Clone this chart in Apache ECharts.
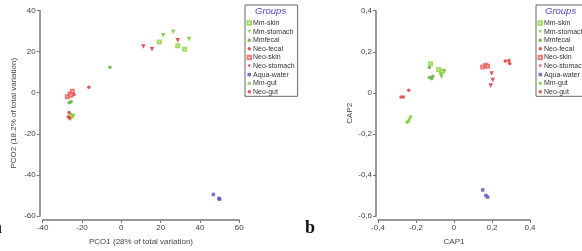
<!DOCTYPE html>
<html><head><meta charset="utf-8">
<script src="https://cdn.jsdelivr.net/npm/echarts@6/dist/echarts.min.js"></script>
<style>html,body{margin:0;padding:0;background:#fff}#c{width:582px;height:251px}</style>
</head><body><div id="c"></div>
<script>
const groups = ['Mm-skin','Mm-stomach','Mmfecal','Neo-fecal','Neo-skin','Neo-stomach','Aqua-water','Mm-gut','Neo-gut'];
const groupColors = ['#8fd13c','#78c22a','#5aa82a','#e0282a','#e85a5a','#d8283a','#5a4cc4','#7cc834','#e03030'];
const groupSymbols = ['emptyRect','path://M0,0 L10,0 L5,9 Z','circle','circle','emptyRect','path://M0,0 L10,0 L5,9 Z','rect','circle','circle'];
const groupSizes = [3,4.5,3.5,3.5,3,4.5,3.5,3.5,3.5];

// PCO (panel a): [PCO1, PCO2]
const pcoMmSkin = [[19.3,24.7],[28.7,22.8],[32.2,21.1]];
const pcoMmStomach = [[21.3,28.0],[26.4,29.6],[34.4,26.1]];
const pcoMmFecal = [[-26.5,-4.9],[-25.5,-4.4],[-5.8,12.4]];
const pcoNeoFecal = [[-24.1,-0.9],[-16.5,2.7]];
const pcoNeoSkin = [[-27.5,-2.0],[-26.1,-0.6],[-24.9,0.7],[-25.6,-1.3]];
const pcoNeoStomach = [[11.2,22.5],[15.6,21.1],[28.7,25.5]];
const pcoAquaWater = [[46.8,-49.5],[50.0,-51.8],[49.6,-51.4]];
const pcoMmGut = [[-25.8,-10.5],[-24.9,-11.7],[-24.4,-10.9],[-26.1,-12.8]];
const pcoNeoGut = [[-26.6,-9.6],[-27.0,-11.7],[-26.3,-12.3]];

// CAP (panel b): [CAP1, CAP2]
const capMmSkin = [[-0.123,0.142],[-0.081,0.113],[-0.063,0.105]];
const capMmStomach = [[-0.051,0.105],[-0.070,0.089],[-0.065,0.078]];
const capMmFecal = [[-0.130,0.123],[-0.130,0.075],[-0.117,0.069],[-0.112,0.081]];
const capNeoFecal = [[0.270,0.155],[0.289,0.157],[0.293,0.143]];
const capNeoSkin = [[0.151,0.126],[0.167,0.134],[0.177,0.129]];
const capNeoStomach = [[0.198,0.094],[0.204,0.062],[0.193,0.036]];
const capAquaWater = [[0.151,-0.473],[0.168,-0.500],[0.177,-0.508]];
const capMmGut = [[-0.228,-0.116],[-0.240,-0.139],[-0.247,-0.143],[-0.235,-0.128]];
const capNeoGut = [[-0.279,-0.020],[-0.267,-0.020],[-0.238,0.013]];

const pcoData = [pcoMmSkin,pcoMmStomach,pcoMmFecal,pcoNeoFecal,pcoNeoSkin,pcoNeoStomach,pcoAquaWater,pcoMmGut,pcoNeoGut];
const capData = [capMmSkin,capMmStomach,capMmFecal,capNeoFecal,capNeoSkin,capNeoStomach,capAquaWater,capMmGut,capNeoGut];

const FONT = 'Liberation Sans, Arial, sans-serif';
const axisColor = '#777';
const labelStyle = {fontSize: 8, color: '#444', fontFamily: FONT};
const nameStyle = {fontSize: 8, color: '#444', fontFamily: FONT};
const commaFmt = v => { const r = Math.round(v*10)/10; return r === 0 ? '0' : r.toFixed(1).replace('.', ','); };

function axisBase(extra) {
  return Object.assign({
    type: 'value',
    splitLine: {show: false},
    axisLine: {show: true, onZero: false, lineStyle: {color: axisColor, width: 1.5}},
    axisTick: {show: true, inside: false, length: 3, lineStyle: {color: axisColor, width: 1}},
    axisLabel: Object.assign({margin: 4}, labelStyle),
    nameTextStyle: nameStyle,
    nameLocation: 'middle'
  }, extra);
}

function isEmpty(i) { return groupSymbols[i].indexOf('empty') === 0; }

const series = [];
groups.forEach((g, i) => {
  const style = {color: groupColors[i], borderColor: groupColors[i], borderWidth: isEmpty(i) ? 1 : 0};
  series.push({name: g, type: 'scatter', xAxisIndex: 0, yAxisIndex: 0, data: pcoData[i],
    symbol: groupSymbols[i], symbolSize: groupSizes[i], itemStyle: style});
  series.push({name: g, type: 'scatter', xAxisIndex: 1, yAxisIndex: 1, data: capData[i],
    symbol: groupSymbols[i], symbolSize: groupSizes[i], itemStyle: style});
});

function legendFor(left) {
  return {
    data: groups.map((g, i) => ({name: g, icon: groupSymbols[i],
      itemStyle: {color: groupColors[i], borderColor: groupColors[i], borderWidth: isEmpty(i) ? 0.7 : 0}})),
    orient: 'vertical', left: left, top: 5,
    borderColor: '#666', borderWidth: 1,
    padding: [14.5, 3, 1, 1.5],
    itemWidth: 3.5, itemHeight: 3.5, itemGap: 1.6,
    selectedMode: false,
    textStyle: {fontSize: 7, color: '#333', padding: [0,0,0,-3], lineHeight: 7, fontFamily: FONT}
  };
}

const chart = echarts.init(document.getElementById('c'), null, {renderer: 'canvas'});
chart.setOption({
  animation: false,
  backgroundColor: '#fff',
  grid: [
    {left: 42.7, top: 10.5, width: 196.6, height: 210.5},
    {left: 378, top: 10.7, width: 152, height: 210.3}
  ],
  xAxis: [
    axisBase({gridIndex: 0, min: -40, max: 60, interval: 20, offset: 4, name: 'PCO1 (28% of total variation)', nameGap: 18}),
    axisBase({gridIndex: 1, min: -0.4, max: 0.4, interval: 0.2, offset: 4, name: 'CAP1', nameGap: 18,
      axisLabel: Object.assign({margin: 4, formatter: commaFmt}, labelStyle)})
  ],
  yAxis: [
    axisBase({gridIndex: 0, min: -60, max: 40, interval: 20, offset: 3, name: 'PCO2 (18.2% of total variation)', nameGap: 22}),
    axisBase({gridIndex: 1, min: -0.6, max: 0.4, interval: 0.2, offset: 2, name: 'CAP2', nameGap: 22,
      axisLabel: Object.assign({margin: 4, formatter: commaFmt}, labelStyle)})
  ],
  legend: [legendFor(245), legendFor(536)],
  graphic: [
    {type: 'text', left: 255, top: 6, style: {text: 'Groups', fontSize: 9.5, fontStyle: 'italic', fill: '#4a48c8', fontFamily: FONT}},
    {type: 'text', left: 545, top: 6, style: {text: 'Groups', fontSize: 9.5, fontStyle: 'italic', fill: '#4a48c8', fontFamily: FONT}},
    {type: 'text', left: 305, top: 219, style: {text: 'b', fontSize: 18, fontWeight: 'bold', fill: '#111', fontFamily: 'Liberation Serif, Times New Roman, serif'}},
    {type: 'text', left: -7, top: 219, style: {text: 'a', fontSize: 18, fontWeight: 'bold', fill: '#111', fontFamily: 'Liberation Serif, Times New Roman, serif'}}
  ],
  series: series
});
</script>
</body></html>
